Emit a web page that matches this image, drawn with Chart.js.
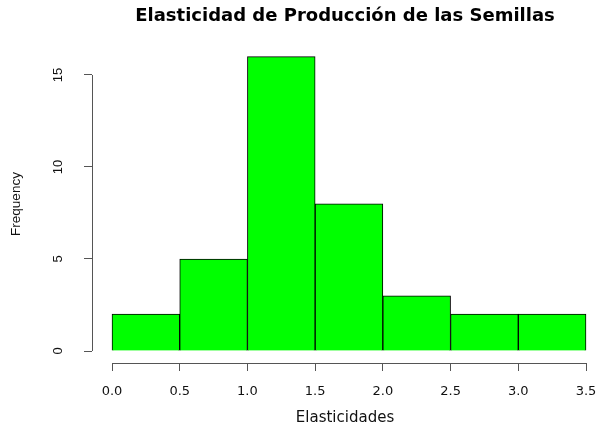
<!DOCTYPE html>
<html>
<head>
<meta charset="utf-8">
<script src="https://cdn.jsdelivr.net/npm/chart.js@4/dist/chart.umd.min.js"></script>
<style>
  html, body { margin: 0; padding: 0; background: #ffffff; }
  #wrap { width: 598px; height: 429px; }
</style>
</head>
<body>
<div id="wrap"><canvas id="hist" width="598" height="429"></canvas></div>
<script>
// Histogram bins (edges) and counts per bin
const binEdges = [0.0, 0.5, 1.0, 1.5, 2.0, 2.5, 3.0, 3.5];
const counts = [2, 5, 16, 8, 3, 2, 2];

// Axis ticks
const xTickValues = [0.0, 0.5, 1.0, 1.5, 2.0, 2.5, 3.0, 3.5];
const xTickLabels = ['0.0', '0.5', '1.0', '1.5', '2.0', '2.5', '3.0', '3.5'];
const yTickValues = [0, 5, 10, 15];
const yTickLabels = ['0', '5', '10', '15'];

const titleText = 'Elasticidad de Producción de las Semillas';
const xTitle = 'Elasticidades';
const yTitle = 'Frequency';

// one bar per bin, centred between its edges
const barPoints = counts.map((c, i) => ({ x: (binEdges[i] + binEdges[i + 1]) / 2, y: c }));

const AXIS_COLOR = '#555555';
const TEXT_COLOR = '#111111';

// R-style axis lines: only span from the first to the last tick
const axisLines = {
  id: 'axisLines',
  afterDraw(chart) {
    const { ctx, chartArea, scales: { x, y } } = chart;
    ctx.save();
    ctx.strokeStyle = AXIS_COLOR;
    ctx.lineWidth = 1;
    ctx.beginPath();
    const yb = Math.round(chartArea.bottom) + 0.5;
    ctx.moveTo(x.getPixelForValue(xTickValues[0]), yb);
    ctx.lineTo(x.getPixelForValue(xTickValues[xTickValues.length - 1]), yb);
    const xl = Math.round(chartArea.left) + 0.5;
    ctx.moveTo(xl, y.getPixelForValue(yTickValues[0]));
    ctx.lineTo(xl, y.getPixelForValue(yTickValues[yTickValues.length - 1]));
    ctx.stroke();
    ctx.restore();
  }
};

new Chart(document.getElementById('hist'), {
  type: 'bar',
  data: {
    datasets: [{
      data: barPoints,
      backgroundColor: '#00ff00',
      borderColor: '#000000',
      borderWidth: 1,
      barPercentage: 1.0,
      categoryPercentage: 1.0
    }]
  },
  options: {
    responsive: false,
    devicePixelRatio: 1,
    animation: false,
    layout: { padding: 0 },
    plugins: {
      legend: { display: false },
      tooltip: { enabled: false },
      title: {
        display: true,
        text: titleText,
        fullSize: false,
        color: '#000000',
        font: { family: 'DejaVu Sans', size: 18, weight: 'bold', lineHeight: 1.2 },
        padding: { top: 6, bottom: 17.4 }
      }
    },
    scales: {
      x: {
        type: 'linear',
        offset: false,
        min: -0.1477,
        max: 3.5886,
        afterFit(scale) {
          scale.height = 66;
          scale.paddingLeft = 0;
          scale.paddingRight = 0;
        },
        afterBuildTicks(scale) { scale.ticks = xTickValues.map(v => ({ value: v })); },
        border: { display: false },
        grid: {
          offset: false,
          drawOnChartArea: false,
          drawTicks: true,
          tickLength: 8,
          color: AXIS_COLOR
        },
        ticks: {
          color: TEXT_COLOR,
          font: { family: 'DejaVu Sans', size: 13 },
          padding: 13,
          maxRotation: 0,
          autoSkip: false,
          callback: (v, i) => xTickLabels[i]
        },
        title: {
          display: true,
          text: xTitle,
          color: TEXT_COLOR,
          font: { family: 'DejaVu Sans', size: 15, lineHeight: 1.2 },
          padding: { top: 0, bottom: 2 }
        }
      },
      y: {
        type: 'linear',
        min: -0.652,
        max: 16.63,
        afterFit(scale) {
          scale.width = 92;
          scale.paddingTop = 0;
          scale.paddingBottom = 0;
        },
        afterBuildTicks(scale) { scale.ticks = yTickValues.map(v => ({ value: v })); },
        border: { display: false },
        grid: {
          drawOnChartArea: false,
          drawTicks: true,
          tickLength: 8,
          color: AXIS_COLOR
        },
        ticks: {
          color: TEXT_COLOR,
          font: { family: 'Liberation Sans', size: 13 },
          minRotation: 90,
          maxRotation: 90,
          crossAlign: 'center',
          padding: 18,
          autoSkip: false,
          callback: (v, i) => yTickLabels[i]
        },
        title: {
          display: true,
          text: yTitle,
          color: TEXT_COLOR,
          font: { family: 'Liberation Sans', size: 13.5, lineHeight: 1.2 },
          padding: { top: 8.4, bottom: 0 }
        }
      }
    }
  },
  plugins: [axisLines]
});
</script>
</body>
</html>
